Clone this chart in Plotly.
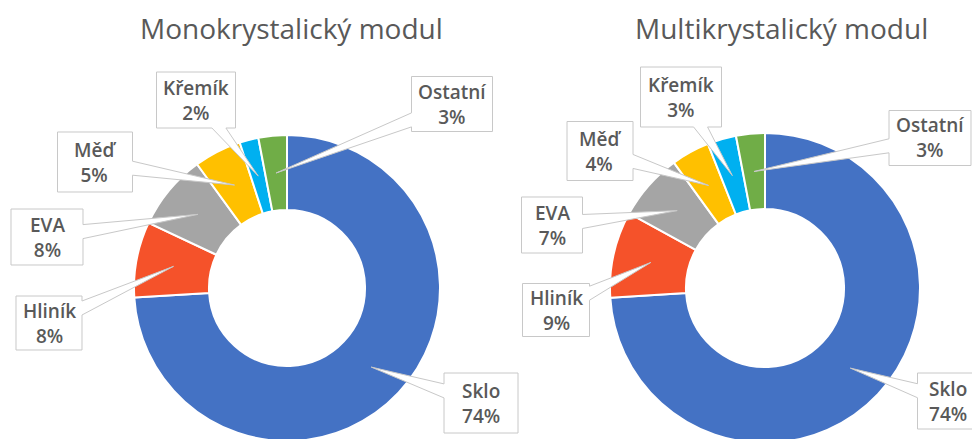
import math
import plotly.graph_objects as go

# ---------------- data ----------------
categories = ["Sklo", "Hliník", "EVA", "Měď", "Křemík", "Ostatní"]
mono_values = [74, 8, 8, 5, 2, 3]
multi_values = [74, 9, 7, 4, 3, 3]
titles = ["Monokrystalický modul", "Multikrystalický modul"]
colors = ["#4472C4", "#F5522A", "#A5A5A5", "#FFC000", "#00B0F0", "#70AD47"]

# ---------------- layout geometry (screen pixels) ----------------
W, H = 980, 439
OX, OY = 8, 8          # page body margin
HOLE = 0.51
pies = [
    dict(cx=287, cy=288, R=153, title_x=291),
    dict(cx=765, cy=288, R=155, title_x=781),
]
# label box centre / size per category (same order as categories)
label_boxes = [
    [(481, 403, 74, 60), (49, 323, 66, 54), (47, 237, 72, 56),
     (95, 162, 75, 60), (196, 100, 79, 56), (452, 104, 81, 55)],
    [(948, 401, 61, 56), (556, 310, 67, 53), (552, 225, 61, 56),
     (600, 151, 66, 59), (681, 97, 81, 60), (930, 138, 82, 55)],
]

TEXT_COLOR = "#595959"
FONT = "Open Sans"


def px(x):
    return (x - OX) / W


def py(y):
    return 1 - (y - OY) / H


def callout_path(box, tip):
    bx, by, bw, bh = box
    tx, ty = tip
    x0, x1 = bx - bw / 2, bx + bw / 2
    y0, y1 = by - bh / 2, by + bh / 2
    dx, dy = tx - bx, ty - by
    tv = (bw / 2) / abs(dx) if dx != 0 else 1e9
    th = (bh / 2) / abs(dy) if dy != 0 else 1e9
    b = 7
    if tv < th:
        p = by + dy * tv
        p = min(max(p, y0 + b + 2), y1 - b - 2)
        edge = "right" if dx > 0 else "left"
    else:
        p = bx + dx * th
        p = min(max(p, x0 + b + 2), x1 - b - 2)
        edge = "bottom" if dy > 0 else "top"
    pts = [(x0, y0)]
    if edge == "top":
        pts += [(p - b, y0), (tx, ty), (p + b, y0)]
    pts.append((x1, y0))
    if edge == "right":
        pts += [(x1, p - b), (tx, ty), (x1, p + b)]
    pts.append((x1, y1))
    if edge == "bottom":
        pts += [(p + b, y1), (tx, ty), (p - b, y1)]
    pts.append((x0, y1))
    if edge == "left":
        pts += [(x0, p + b), (tx, ty), (x0, p - b)]
    return "M " + " L ".join(f"{px(x):.5f},{py(y):.5f}" for x, y in pts) + " Z"


fig = go.Figure()
shapes = []
annotations = []

for geo, values, title, boxes in zip(pies, [mono_values, multi_values], titles, label_boxes):
    cx, cy, R = geo["cx"], geo["cy"], geo["R"]
    fig.add_trace(go.Pie(
        labels=categories,
        values=values,
        hole=HOLE,
        sort=False,
        direction="clockwise",
        rotation=0,
        textinfo="none",
        hoverinfo="label+percent",
        showlegend=False,
        marker=dict(colors=colors, line=dict(color="white", width=2)),
        domain=dict(x=[px(cx - R), px(cx + R)],
                    y=[max(0, py(cy + R)), min(1, py(cy - R))]),
    ))
    total = sum(values)
    cum = 0
    rt = R * (1 + HOLE) / 2
    for cat, v, box in zip(categories, values, boxes):
        theta = 2 * math.pi * (cum + v / 2) / total
        cum += v
        tip = (cx + rt * math.sin(theta), cy - rt * math.cos(theta))
        shapes.append(dict(
            type="path", path=callout_path(box, tip), xref="paper", yref="paper",
            fillcolor="white", line=dict(color="#C8C8C8", width=1), layer="above",
        ))
        annotations.append(dict(
            x=px(box[0]), y=py(box[1]), xref="paper", yref="paper",
            text=f"{cat}<br>{v}%", showarrow=False,
            xanchor="center", yanchor="middle", align="center",
            font=dict(family=FONT, size=19, color=TEXT_COLOR, weight=600),
        ))
    annotations.append(dict(
        x=px(geo["title_x"]), y=1, xref="paper", yref="paper",
        text=title, showarrow=False, xanchor="center", yanchor="top",
        borderpad=0,
        font=dict(family=FONT, size=28, color=TEXT_COLOR),
    ))

fig.update_layout(
    width=W, height=H,
    margin=dict(l=0, r=0, t=0, b=0),
    paper_bgcolor="white", plot_bgcolor="white",
    shapes=shapes, annotations=annotations,
)

fig.write_html("out.html")
